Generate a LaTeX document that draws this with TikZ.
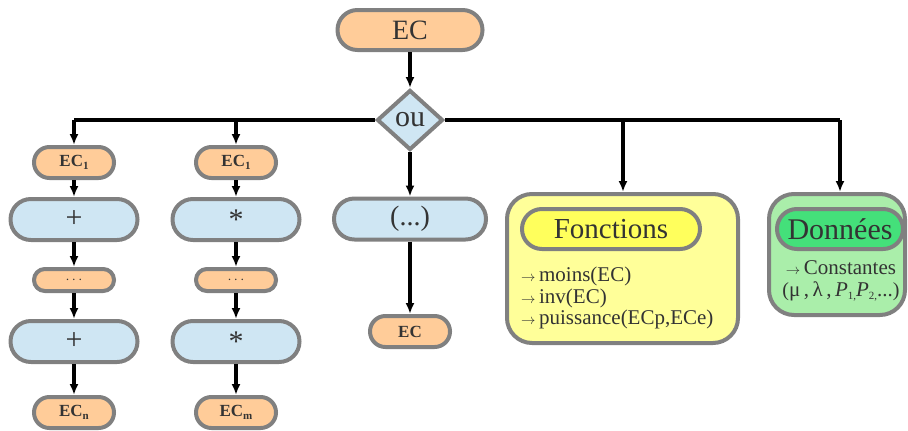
\documentclass[tikz,border=0pt]{standalone}
\usepackage{fontspec}
\setmainfont{Liberation Serif}
\usetikzlibrary{shapes.geometric,arrows.meta}
\definecolor{orng}{HTML}{FFCC99}
\definecolor{lblue}{HTML}{CFE6F3}
\definecolor{bord}{HTML}{808080}
\definecolor{txt}{HTML}{333333}
\definecolor{yel}{HTML}{FFFF99}
\definecolor{yeltitle}{HTML}{FFFF5C}
\definecolor{lgrn}{HTML}{AAEEAA}
\definecolor{grn}{HTML}{44E07A}
\newcommand{\fs}[1]{\fontsize{#1}{#1}\selectfont}
\newcommand{\arr}{{\fs{15}$\rightarrow$}\,}
\tikzset{
  box/.style={draw=bord, line width=4pt, text=txt, inner sep=0pt},
  pillA/.style={box, fill=lblue, minimum width=127pt, minimum height=41pt, rounded corners=20.4pt, font=\fs{30}},
  pillS/.style={box, fill=orng, minimum width=80pt, minimum height=31pt, rounded corners=15.4pt, font=\fs{17}\bfseries},
  pillD/.style={box, fill=orng, minimum width=80pt, minimum height=22pt, rounded corners=10.9pt, font=\fs{15}},
  conn/.style={line width=4.5pt, black},
  arrw/.style={conn, -{Latex[length=11pt,width=9pt]}},
}
\newcommand{\sub}[1]{\raisebox{-0.35ex}{\fs{11}#1}}
\begin{document}
\begin{tikzpicture}[x=1pt,y=-1pt]
\useasboundingbox (0,0) rectangle (908,431);
% top
\node[box, fill=orng, minimum width=145pt, minimum height=40pt, rounded corners=19.9pt, font=\fs{28}] (ec) at (410,30) {EC};
\node[box, diamond, fill=lblue, minimum width=66pt, minimum height=60pt, font=\fs{30}] (d) at (410,120) {ou};
\draw[arrw] (ec.south) -- (d.north);
% junctions
\coordinate (j1) at (74,120);
\coordinate (j2) at (236,120);
\coordinate (j4) at (623,120);
\coordinate (j5) at (840,120);
% column 1
\node[pillS] (c1a) at (74,162.5) {EC\sub{1}};
\node[pillA] (c1b) at (74,219.5) {+};
\node[pillD] (c1c) at (74,280) {$\cdots$};
\node[pillA] (c1d) at (74,341.5) {+};
\node[pillS] (c1e) at (74,412.5) {EC\sub{n}};
% column 2
\node[pillS] (c2a) at (236,162.5) {EC\sub{1}};
\node[pillA] (c2b) at (236,219.5) {*};
\node[pillD] (c2c) at (236,280) {$\cdots$};
\node[pillA] (c2d) at (236,341.5) {*};
\node[pillS] (c2e) at (236,412.5) {EC\sub{m}};
% column 3
\node[pillA, minimum width=152pt, font=\fs{28}] (c3a) at (410,219) {(...)};
\node[pillS] (c3b) at (410,331.5) {EC};
% Fonctions
\node[box, fill=yel, minimum width=231pt, minimum height=149pt, rounded corners=25pt] (fo) at (622.5,268.5) {};
\node[box, fill=yeltitle, minimum width=178pt, minimum height=40pt, rounded corners=19.9pt, font=\fs{29}] (fot) at (611,229) {Fonctions};
\node[text=txt, anchor=west, align=left, inner sep=0pt, font=\fs{21}] (fol) at (521,298)
  {\arr moins(EC)\\[0.5pt]\arr inv(EC)\\[0.5pt]\arr puissance(ECp,ECe)};
% Données
\node[box, fill=lgrn, minimum width=136pt, minimum height=121pt, rounded corners=25pt] (dn) at (837,254.5) {};
\node[box, fill=grn, minimum width=126pt, minimum height=40pt, rounded corners=19.9pt, font=\fs{30}] (dnt) at (840,229) {Données};
\node[text=txt, align=center, inner sep=0pt, font=\fs{21}] (dnl) at (841,281)
  {\arr Constantes\\[1pt]{\fs{20}(}μ\,,\,λ\,,\,\textit{P}\sub{1,}\textit{P}\sub{2,}...{\fs{20})}};
% connectors
\draw[conn] (d.west) -- (j1);
\draw[conn] (d.east) -- (j5);
\draw[arrw] (j1) -- (c1a.north);
\draw[arrw] (j2) -- (c2a.north);
\draw[arrw] (j4) -- (fo.north -| j4);
\draw[arrw] (j5) -- (dn.north -| j5);
\draw[arrw] (d.south) -- (c3a.north);
\draw[arrw] (c3a.south) -- (c3b.north);
\foreach \c in {1,2}{
  \draw[arrw] (c\c a.south) -- (c\c b.north);
  \draw[arrw] (c\c b.south) -- (c\c c.north);
  \draw[arrw] (c\c c.south) -- (c\c d.north);
  \draw[arrw] (c\c d.south) -- (c\c e.north);
}
\end{tikzpicture}
\end{document}
